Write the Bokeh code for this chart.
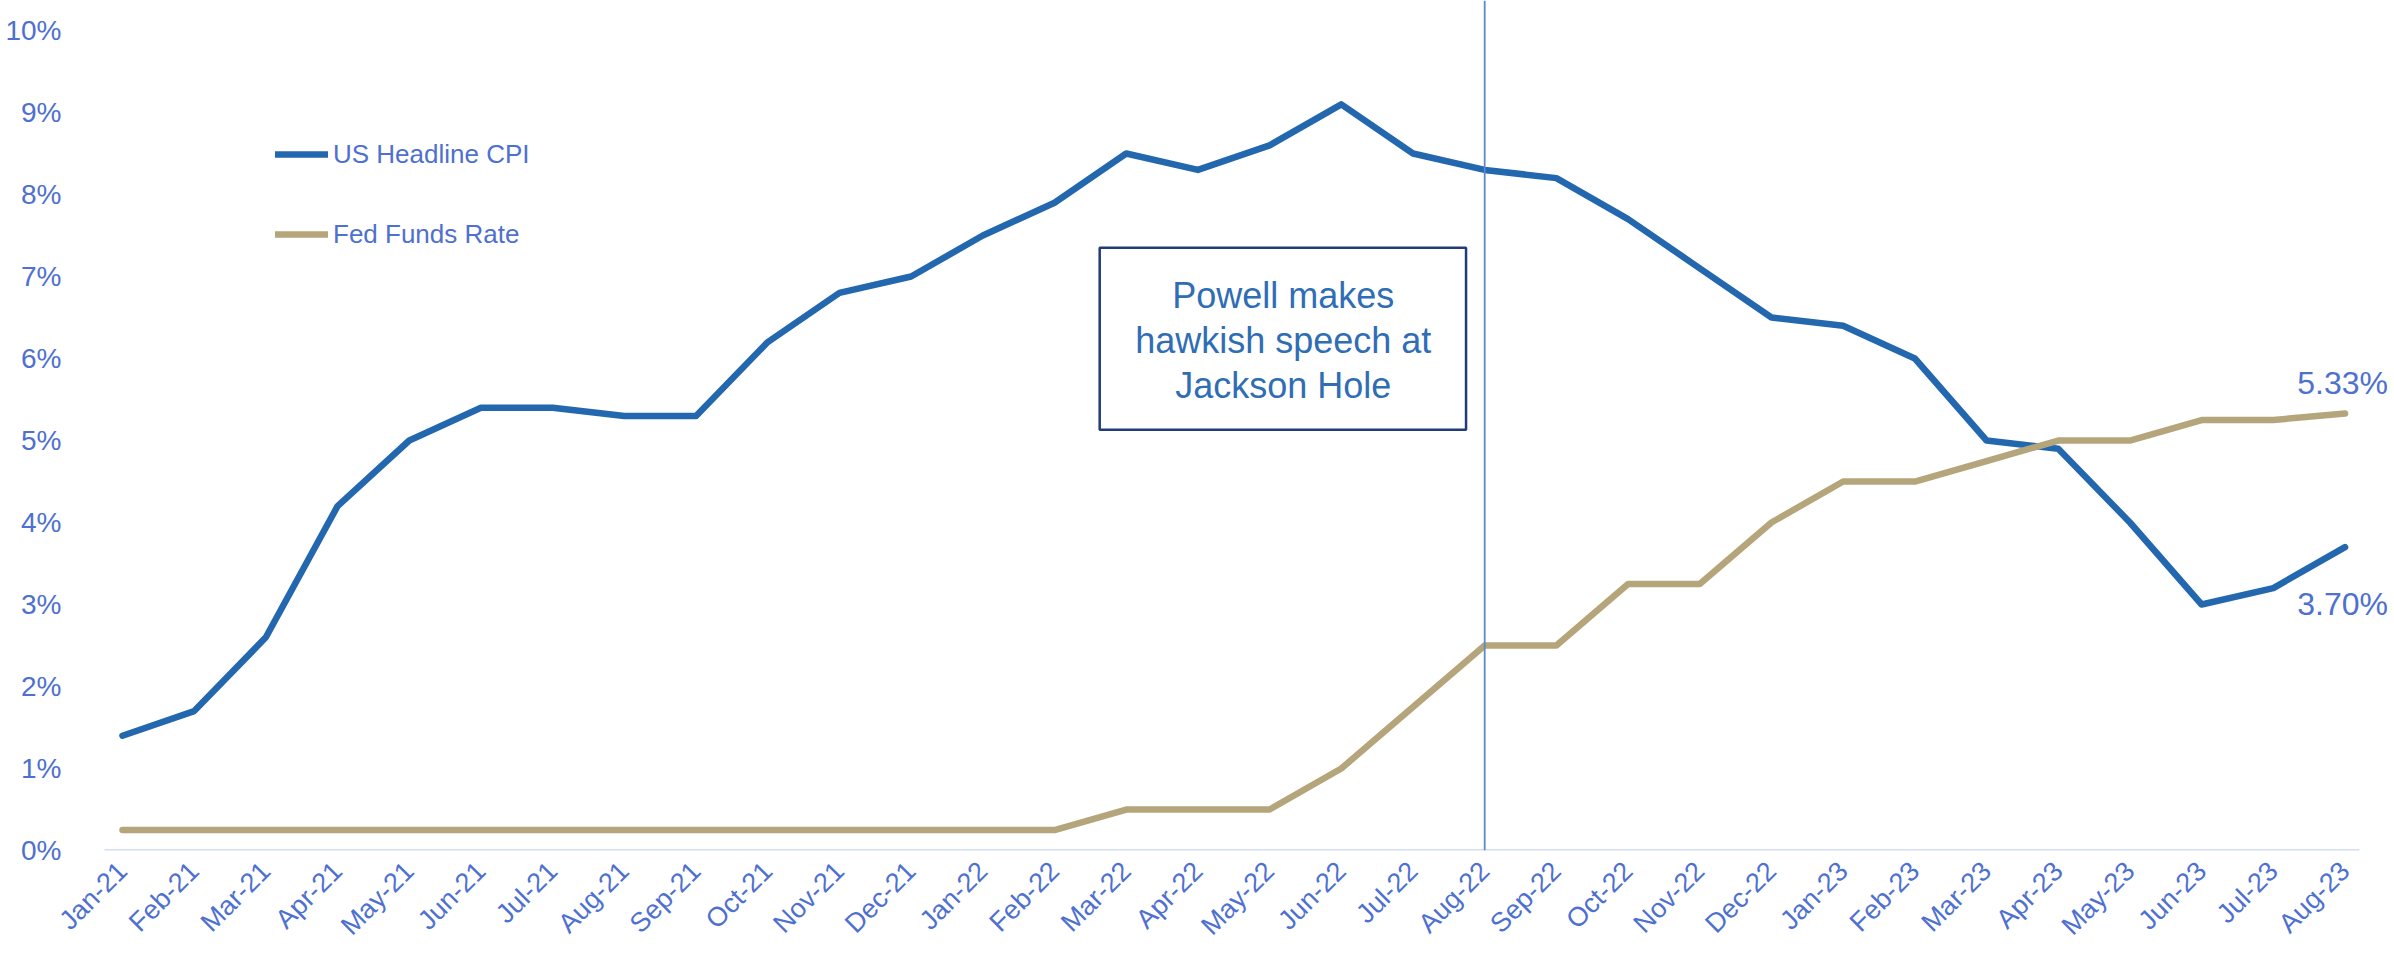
from bokeh.plotting import figure
from bokeh.models import (Range1d, FixedTicker, PrintfTickFormatter, Span, BoxAnnotation,
                          Label, Legend, LegendItem)
from bokeh.embed import file_html
from bokeh.resources import INLINE
import math

months = ["Jan-21", "Feb-21", "Mar-21", "Apr-21", "May-21", "Jun-21", "Jul-21", "Aug-21",
          "Sep-21", "Oct-21", "Nov-21", "Dec-21", "Jan-22", "Feb-22", "Mar-22", "Apr-22",
          "May-22", "Jun-22", "Jul-22", "Aug-22", "Sep-22", "Oct-22", "Nov-22", "Dec-22",
          "Jan-23", "Feb-23", "Mar-23", "Apr-23", "May-23", "Jun-23", "Jul-23", "Aug-23"]
cpi = [1.4, 1.7, 2.6, 4.2, 5.0, 5.4, 5.4, 5.3, 5.3, 6.2, 6.8, 7.0, 7.5, 7.9, 8.5, 8.3,
       8.6, 9.1, 8.5, 8.3, 8.2, 7.7, 7.1, 6.5, 6.4, 6.0, 5.0, 4.9, 4.0, 3.0, 3.2, 3.7]
fed = [0.25, 0.25, 0.25, 0.25, 0.25, 0.25, 0.25, 0.25, 0.25, 0.25, 0.25, 0.25, 0.25, 0.25,
       0.5, 0.5, 0.5, 1.0, 1.75, 2.5, 2.5, 3.25, 3.25, 4.0, 4.5, 4.5, 4.75, 5.0, 5.0, 5.25,
       5.25, 5.33]
y_ticks = list(range(0, 11))
event_month = "Aug-22"
event_text = ["Powell makes", "hawkish speech at", "Jackson Hole"]

FONT = "Liberation Sans"
TICK_COLOR = "#4E70D0"
CPI_COLOR = "#2367AE"
FED_COLOR = "#B5A57B"

x = list(range(len(months)))

p = figure(frame_width=2305, frame_height=850,
           x_range=Range1d(-0.46, 31.69), y_range=Range1d(0, 10.366),
           output_backend="svg", toolbar_location=None,
           min_border_left=89, min_border_right=0, min_border_top=0, min_border_bottom=120)
p.outline_line_color = None
p.grid.visible = False
p.background_fill_color = "white"
p.border_fill_color = "white"

# axes
p.xaxis.ticker = FixedTicker(ticks=x)
p.xaxis.major_label_overrides = {i: m for i, m in enumerate(months)}
p.xaxis.major_label_orientation = math.pi / 4
p.yaxis.ticker = FixedTicker(ticks=y_ticks)
p.yaxis.formatter = PrintfTickFormatter(format="%d%%")
for ax in (p.xaxis, p.yaxis):
    ax.axis_line_color = None
    ax.major_tick_line_color = None
    ax.minor_tick_line_color = None
    ax.major_label_text_font = FONT
    ax.major_label_text_color = TICK_COLOR
p.xaxis.major_label_text_font_size = "27px"
p.yaxis.major_label_text_font_size = "28px"
p.yaxis.major_label_standoff = 22
p.xaxis.major_label_standoff = 10

# baseline
p.segment(x0=[-0.25], y0=[0], x1=[31.2], y1=[0], line_color="#D3DDF3", line_width=3)

# event line
ev = months.index(event_month)
p.add_layout(Span(location=ev, dimension="height", line_color="#5A8AC8", line_width=1.8))

# series
r_cpi = p.line(x, cpi, line_color=CPI_COLOR, line_width=6.5, line_cap="round", line_join="round")
r_fed = p.line(x, fed, line_color=FED_COLOR, line_width=6.5, line_cap="round", line_join="round")

# annotation box
p.add_layout(BoxAnnotation(left=13.63, right=18.74, top=7.35, bottom=5.13,
                           fill_color="white", fill_alpha=1.0,
                           line_color="#203A7A", line_alpha=1.0, line_width=2.5))
for i, t in enumerate(event_text):
    p.add_layout(Label(x=16.19, y=6.77 - 0.55 * i, text=t, text_align="center",
                       text_baseline="middle", text_font=FONT, text_font_size="36px",
                       text_color="#2F6DB5"))

# end labels
p.add_layout(Label(x=x[-1], y=fed[-1] + 0.37, x_offset=43, text=f"{fed[-1]:.2f}%",
                   text_align="right", text_baseline="middle", text_font=FONT,
                   text_font_size="32px", text_color=TICK_COLOR))
p.add_layout(Label(x=x[-1], y=cpi[-1] - 0.69, x_offset=43, text=f"{cpi[-1]:.2f}%",
                   text_align="right", text_baseline="middle", text_font=FONT,
                   text_font_size="32px", text_color=TICK_COLOR))

legend = Legend(items=[LegendItem(label="US Headline CPI", renderers=[r_cpi]),
                       LegendItem(label="Fed Funds Rate", renderers=[r_fed])],
                location=(186, 596), orientation="vertical")
legend.border_line_color = None
legend.background_fill_alpha = 0
legend.padding = 0
legend.margin = 0
legend.glyph_width = 53
legend.glyph_height = 40
legend.label_height = 40
legend.spacing = 40
legend.label_standoff = 5
legend.label_text_font = FONT
legend.label_text_font_size = "26px"
legend.label_text_color = TICK_COLOR
p.add_layout(legend)

open("out.html", "w").write(file_html(p, INLINE))
